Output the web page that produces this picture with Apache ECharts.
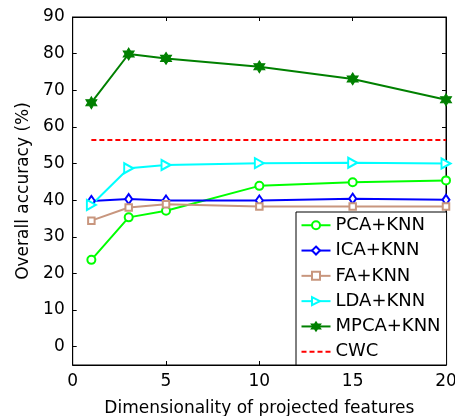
<!DOCTYPE html>
<html>
<head>
<meta charset="utf-8">
<script src="https://cdn.jsdelivr.net/npm/echarts@6/dist/echarts.min.js"></script>
<style>
  html, body { margin: 0; padding: 0; background: #fff; }
  #chart { width: 455px; height: 416px; }
</style>
</head>
<body>
<div id="chart"></div>
<script>
// Projected feature dimensionality on the x axis
var dims = [1, 3, 5, 10, 15, 20];

// Overall accuracy (%) per method
var pcaKnn  = [23.7, 35.3, 37.1, 43.9, 44.9, 45.4];
var icaKnn  = [39.8, 40.3, 39.9, 39.9, 40.4, 40.1];
var faKnn   = [34.4, 38.0, 38.9, 38.3, 38.3, 38.3];
var ldaKnn  = [38.7, 48.7, 49.6, 50.1, 50.2, 50.0];
var mpcaKnn = [66.6, 79.9, 78.7, 76.4, 73.1, 67.4];
var cwc     = [56.4, 56.4, 56.4, 56.4, 56.4, 56.4];

var yTicks = [0, 10, 20, 30, 40, 50, 60, 70, 80, 90];
var xTicks = [0, 5, 10, 15, 20];

var FONT = 'DejaVu Sans';

function pairs(vals) {
  return dims.map(function (d, i) { return [d, vals[i]]; });
}

// six-pointed star marker
var hexagram = 'path://M0,-10 L2.89,-5 L8.66,-5 L5.77,0 L8.66,5 L2.89,5 L0,10 L-2.89,5 L-8.66,5 L-5.77,0 L-8.66,-5 L-2.89,-5 Z';

function lineSeries(name, vals, color, symbol, size, extra) {
  var s = {
    name: name,
    type: 'line',
    data: pairs(vals),
    symbol: symbol,
    symbolSize: size,
    showAllSymbol: true,
    lineStyle: { color: color, width: 2 },
    itemStyle: { color: '#fff', borderColor: color, borderWidth: 2 },
    emphasis: { disabled: true },
    animation: false,
    z: 3
  };
  if (extra) { for (var k in extra) s[k] = extra[k]; }
  return s;
}

var chart = echarts.init(document.getElementById('chart'), null, { renderer: 'canvas' });

var axisLine = { show: true, onZero: false, lineStyle: { color: '#000', width: 1 } };

chart.setOption({
  backgroundColor: '#fff',
  animation: false,
  grid: {
    left: 72.7, right: 9, top: 17, bottom: 51,
    outerBoundsMode: 'none',
    containLabel: false,
    show: true, borderColor: '#000', borderWidth: 1, backgroundColor: 'transparent'
  },
  xAxis: [{
    type: 'value', min: 0, max: 20, interval: 5,
    position: 'bottom',
    name: 'Dimensionality of projected features',
    nameLocation: 'middle', nameGap: 35,
    nameTextStyle: { fontFamily: FONT, fontSize: 17, color: '#000' },
    axisLine: axisLine,
    axisTick: { show: true, inside: true, length: 4, customValues: xTicks, lineStyle: { color: '#000' } },
    axisLabel: { fontFamily: FONT, fontSize: 17, color: '#000', margin: 8, customValues: xTicks },
    splitLine: { show: false }
  }, {
    type: 'value', min: 0, max: 20, interval: 5,
    position: 'top',
    axisLine: axisLine,
    axisTick: { show: true, inside: true, length: 4, customValues: xTicks, lineStyle: { color: '#000' } },
    axisLabel: { show: false },
    splitLine: { show: false }
  }],
  yAxis: [{
    type: 'value', min: -5, max: 90,
    position: 'left',
    name: 'Overall accuracy (%)',
    nameLocation: 'middle', nameGap: 40,
    nameTextStyle: { fontFamily: FONT, fontSize: 17, color: '#000' },
    axisLine: axisLine,
    axisTick: { show: true, inside: true, length: 4, customValues: yTicks, lineStyle: { color: '#000' } },
    axisLabel: { fontFamily: FONT, fontSize: 17, color: '#000', margin: 8, customValues: yTicks },
    splitLine: { show: false }
  }, {
    type: 'value', min: -5, max: 90,
    position: 'right',
    axisLine: axisLine,
    axisTick: { show: true, inside: true, length: 4, customValues: yTicks, lineStyle: { color: '#000' } },
    axisLabel: { show: false },
    splitLine: { show: false }
  }],
  legend: {
    orient: 'vertical',
    left: 296, top: 212,
    padding: [4.25, 6, 4.25, 4.5],
    itemWidth: 29, itemHeight: 10, itemGap: 7.3,
    backgroundColor: '#fff',
    borderColor: '#000', borderWidth: 1, borderRadius: 0,
    textStyle: { fontFamily: FONT, fontSize: 18, color: '#000', lineHeight: 18 },
    selectedMode: false,
    data: ['PCA+KNN', 'ICA+KNN', 'FA+KNN', 'LDA+KNN', 'MPCA+KNN',
      { name: 'CWC', itemStyle: { opacity: 0 } }]
  },
  series: [
    lineSeries('PCA+KNN', pcaKnn, '#00ff00', 'circle', 8),
    lineSeries('ICA+KNN', icaKnn, '#0000ff', 'diamond', [7, 10]),
    lineSeries('FA+KNN', faKnn, '#c8967e', 'rect', 6.5),
    lineSeries('LDA+KNN', ldaKnn, '#00ffff', 'triangle', [10, 9], { symbolRotate: -90 }),
    lineSeries('MPCA+KNN', mpcaKnn, '#008000', hexagram, [11, 12], {
      itemStyle: { color: '#008000', borderColor: '#008000', borderWidth: 1 }
    }),
    {
      name: 'CWC',
      type: 'line',
      data: pairs(cwc),
      symbol: 'none',
      lineStyle: { color: '#ff0000', width: 2, type: [5, 3] },
      itemStyle: { color: '#ff0000' },
      emphasis: { disabled: true },
      animation: false,
      z: 2
    }
  ]
});
</script>
</body>
</html>
